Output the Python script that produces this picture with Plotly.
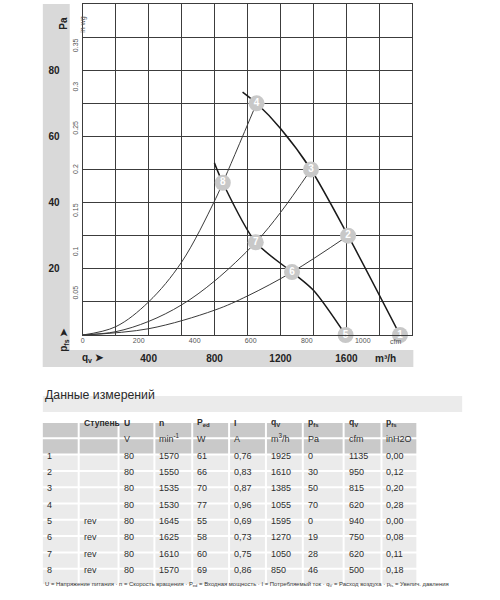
import plotly.graph_objects as go

# ---------------- data ----------------
# operating points (m³/h, Pa)
pt_labels = ["1", "2", "3", "4", "5", "6", "7", "8"]
pt_qv = [1925, 1610, 1385, 1055, 1595, 1270, 1050, 850]
pt_pfs = [0, 30, 50, 70, 0, 19, 28, 46]

# fan curve (normal)
fan_qv = [970, 1055, 1200, 1385, 1610, 1925]
fan_pfs = [73.4, 70, 62.4, 50, 30, 0]
# fan curve (rev)
rev_qv = [799, 850, 1050, 1270, 1400, 1595]
rev_pfs = [52, 46, 28, 19, 13.5, 0]
# system curves
sysA_qv = [0, 200, 400, 600, 800, 850, 1055]
sysA_pfs = [0, 2.5, 10, 22, 40.5, 46, 70]
sysB_qv = [0, 200, 400, 600, 800, 1050, 1200, 1385]
sysB_pfs = [0, 1.0, 4.1, 9.1, 16.3, 28, 37, 50]
sysC_qv = [0, 400, 800, 1000, 1270, 1610]
sysC_pfs = [0, 1.9, 7.5, 11.8, 19, 30]

# axis ticks
qv_ticks = list(range(0, 2001, 200))
qv_labels = {400: "400", 800: "800", 1200: "1200", 1600: "1600"}
pa_ticks = list(range(0, 101, 10))
pa_labels = {20: "20", 40: "40", 60: "60", 80: "80"}
cfm_ticks = [0, 200, 400, 600, 800, 1000]
inwg_ticks = [0.05, 0.1, 0.15, 0.2, 0.25, 0.3, 0.35]
inwg_labels = ["0.05", "0.1", "0.15", "0.2", "0.25", "0.3", "0.35"]

# table
tbl_header = ["", "Ступень", "U", "n", "P<sub>ed</sub>", "I", "q<sub>V</sub>", "p<sub>fs</sub>", "q<sub>V</sub>", "p<sub>fs</sub>"]
tbl_units = ["", "", "V", "min<sup>-1</sup>", "W", "A", "m<sup>3</sup>/h", "Pa", "cfm", "inH2O"]
col_nr = ["1", "2", "3", "4", "5", "6", "7", "8"]
col_step = ["", "", "", "", "rev", "rev", "rev", "rev"]
col_U = ["80"] * 8
col_n = ["1570", "1550", "1535", "1530", "1645", "1625", "1610", "1570"]
col_Ped = ["61", "66", "70", "77", "55", "58", "60", "69"]
col_I = ["0,76", "0,83", "0,87", "0,96", "0,69", "0,73", "0,75", "0,86"]
col_qv = ["1925", "1610", "1385", "1055", "1595", "1270", "1050", "850"]
col_pfs = ["0", "30", "50", "70", "0", "19", "28", "46"]
col_cfm = ["1135", "950", "815", "620", "940", "750", "620", "500"]
col_inh2o = ["0,00", "0,12", "0,20", "0,28", "0,00", "0,08", "0,11", "0,18"]

title_text = "Данные измерений"
footnote = ("U = Напряжение питания · n = Скорость вращения · P<sub>ed</sub> = Входная мощность · "
            "I = Потребляемый ток · q<sub>V</sub> = Расход воздуха · p<sub>fs</sub> = Увелич. давления")

# ---------------- figure ----------------
W, H = 500, 600
def px(x):
    return x / W
def py(y):
    return 1 - y / H

FONT = "Liberation Sans, Arial, sans-serif"

fig = go.Figure()

sys_line = dict(color="#3a3a3a", width=1, shape="spline", smoothing=1.0)
fan_line = dict(color="#1a1a1a", width=1.5, shape="spline", smoothing=0.8)
for xs, ys in [(sysA_qv, sysA_pfs), (sysB_qv, sysB_pfs), (sysC_qv, sysC_pfs)]:
    fig.add_trace(go.Scatter(x=xs, y=ys, mode="lines", line=sys_line, hoverinfo="skip", showlegend=False))
for xs, ys in [(fan_qv, fan_pfs), (rev_qv, rev_pfs)]:
    fig.add_trace(go.Scatter(x=xs, y=ys, mode="lines", line=fan_line, hoverinfo="skip", showlegend=False))

fig.add_trace(go.Scatter(
    x=pt_qv, y=pt_pfs, mode="markers+text", text=pt_labels, textposition="middle center",
    marker=dict(size=16, color="#c8c8c8"),
    textfont=dict(family=FONT, size=10, color="white", weight="bold"),
    cliponaxis=False, showlegend=False, hoverinfo="skip"))

# invisible traces to bind secondary axes
fig.add_trace(go.Scatter(x=[0], y=[0], xaxis="x2", yaxis="y", mode="markers",
                         marker=dict(opacity=0), showlegend=False, hoverinfo="skip"))
fig.add_trace(go.Scatter(x=[0], y=[0], xaxis="x", yaxis="y2", mode="markers",
                         marker=dict(opacity=0), showlegend=False, hoverinfo="skip"))

grid = "#3c3c3c"
fig.update_layout(
    width=W, height=H, margin=dict(l=0, r=0, t=0, b=0),
    paper_bgcolor="white", plot_bgcolor="white", showlegend=False,
    xaxis=dict(domain=[px(81), px(412)], range=[0, 2000], tickvals=qv_ticks,
               ticktext=[qv_labels.get(v, "") for v in qv_ticks],
               tickfont=dict(family=FONT, size=10, color="#222", weight="bold"),
               ticks="", ticklabelstandoff=14, showgrid=True, gridcolor=grid, gridwidth=1,
               showline=True, linecolor=grid, linewidth=1, mirror=True, zeroline=False,
               anchor="y", fixedrange=True),
    xaxis2=dict(overlaying="x", anchor="y", side="bottom", range=[0, 2000 / 1.699],
                tickvals=cfm_ticks, ticktext=[str(v) for v in cfm_ticks],
                tickfont=dict(family=FONT, size=7, color="#555"), ticks="",
                ticklabelstandoff=0, showgrid=False, zeroline=False, showline=False),
    yaxis=dict(domain=[py(335), py(4)], range=[0, 100], tickvals=pa_ticks,
               ticktext=[pa_labels.get(v, "") for v in pa_ticks],
               tickfont=dict(family=FONT, size=10, color="#222", weight="bold"),
               ticks="", ticklabelstandoff=20, showgrid=True, gridcolor=grid, gridwidth=1,
               showline=True, linecolor=grid, linewidth=1, mirror=True, zeroline=False,
               anchor="x"),
    yaxis2=dict(overlaying="y", anchor="x", side="left", range=[0, 100 / 249.089],
                tickvals=inwg_ticks, ticktext=inwg_labels, tickangle=-90,
                tickfont=dict(family=FONT, size=7, color="#555"), ticks="",
                ticklabelstandoff=2, showgrid=False, zeroline=False, showline=False),
)

shapes = [
    dict(type="rect", xref="paper", yref="paper", x0=px(41), x1=px(68), y0=py(367), y1=py(4),
         fillcolor="#d9d9d9", line=dict(width=0), layer="below"),
    dict(type="rect", xref="paper", yref="paper", x0=px(41), x1=px(413), y0=py(367), y1=py(350),
         fillcolor="#d9d9d9", line=dict(width=0), layer="below"),
    dict(type="rect", xref="paper", yref="paper", x0=px(41), x1=px(462), y0=py(412), y1=py(396),
         fillcolor="#ebebeb", line=dict(width=0), layer="below"),
]

ann = [
    dict(x=px(54), y=py(15), text="<b>Pa</b>", textangle=-90,
         font=dict(family=FONT, size=10, color="#222")),
    dict(x=px(75), y=py(15), text="in wg", textangle=-90,
         font=dict(family=FONT, size=7, color="#555")),
    dict(x=px(54), y=py(340), text="<b>p<sub>fs</sub> ➤</b>", textangle=-90,
         font=dict(family=FONT, size=10, color="#222")),
    dict(x=px(78), y=py(358), text="<b>q<sub>v</sub> ➤</b>",
         font=dict(family=FONT, size=10, color="#222")),
    dict(x=px(398), y=py(358), text="<b>m³/h</b>",
         font=dict(family=FONT, size=10, color="#222")),
    dict(x=px(403), y=py(342), text="cfm",
         font=dict(family=FONT, size=7, color="#555")),
    dict(x=px(41), y=py(404), text=title_text, xanchor="left",
         font=dict(family=FONT, size=12.3, color="#2a2a2a")),
    dict(x=px(246), y=py(590), text=footnote,
         font=dict(family=FONT, size=5.9, color="#333")),
]

# ---- table built from the arrays (cells as shapes, texts as annotations) ----
col_edges = [41, 78, 118, 154, 192, 229, 266, 303, 344, 382, 418]
row_top = 422
row_h = 16.3
cols = [col_nr, col_step, col_U, col_n, col_Ped, col_I, col_qv, col_pfs, col_cfm, col_inh2o]
rows = [["<b>%s</b>" % h if h else "" for h in tbl_header], tbl_units] + \
       [[c[i] for c in cols] for i in range(len(col_nr))]
for r, row in enumerate(rows):
    y0 = row_top + r * row_h
    y1 = y0 + row_h
    fill = "#c9c9c9" if r < 2 else "#ebebeb"
    fsize = 8.6 if r == 0 else 9
    for c, val in enumerate(row):
        x0, x1 = col_edges[c], col_edges[c + 1]
        shapes.append(dict(type="rect", xref="paper", yref="paper",
                           x0=px(x0), x1=px(x1 - 2), y0=py(y1 - 1), y1=py(y0 + 1),
                           fillcolor=fill, line=dict(width=0), layer="below"))
        if val:
            ann.append(dict(x=px(x0 + 2), y=py((y0 + y1) / 2), text=val, xanchor="left",
                            font=dict(family=FONT, size=fsize, color="#2e2e2e")))

for a in ann:
    a.setdefault("xref", "paper")
    a.setdefault("yref", "paper")
    a.setdefault("showarrow", False)
fig.update_layout(shapes=shapes, annotations=ann)

fig.write_html("out.html")
